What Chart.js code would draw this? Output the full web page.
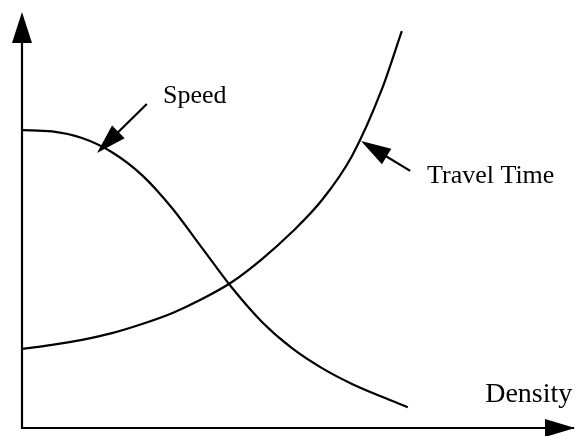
<!DOCTYPE html>
<html>
<head>
<meta charset="utf-8">
<script src="https://cdn.jsdelivr.net/npm/chart.js@4/dist/chart.umd.min.js"></script>
<style>
  html, body { margin: 0; padding: 0; background: #fff; }
  canvas { display: block; }
</style>
</head>
<body>
<canvas id="densityChart" width="575" height="436"></canvas>
<script>
// Curvas esquemáticas (unidades arbitrarias)
const densityValues = [0, 5, 10, 15, 20, 25, 30, 35, 40, 45, 50, 55, 60, 64.3];
const speedValues   = [71.6, 71.3, 69.7, 66.3, 60.8, 52.9, 43.3, 33.7, 25.5, 19.2, 14.4, 10.6, 7.5, 5.0];

const travelDensity = [0, 5, 10, 15, 20, 25, 30, 35, 40, 45, 50, 55, 60, 63.3];
const travelValues  = [19.0, 20.0, 21.2, 22.8, 25.0, 27.6, 31.0, 35.1, 40.6, 47.1, 54.8, 65.4, 81.5, 95.4];

const seriesLabels = ['Speed', 'Travel Time'];
const axisLabel = 'Density';

// Anotaciones: etiqueta + flecha apuntando a la curva (en unidades de datos)
const annotations = [
    { text: 'Speed',       textAt: [23.5, 78.1], tail: [20.8, 77.9], tip: [12.5, 66.1] },
    { text: 'Travel Time', textAt: [67.5, 58.9], tail: [64.7, 61.8], tip: [56.5, 69.0] }
];
const axisLabelAt = [77.2, 6.25];

const FONT = '"Liberation Serif", "Times New Roman", serif';

function arrowHead(ctx, fromX, fromY, tipX, tipY, len, half) {
    const a = Math.atan2(tipY - fromY, tipX - fromX);
    const bx = tipX - len * Math.cos(a), by = tipY - len * Math.sin(a);
    ctx.beginPath();
    ctx.moveTo(tipX, tipY);
    ctx.lineTo(bx + half * Math.sin(a), by - half * Math.cos(a));
    ctx.lineTo(bx - half * Math.sin(a), by + half * Math.cos(a));
    ctx.closePath();
    ctx.fill();
}

const sketchPlugin = {
    id: 'sketch',
    afterDatasetsDraw(chart) {
        const { ctx, chartArea: ca, scales: { x, y } } = chart;
        ctx.save();
        ctx.strokeStyle = '#000';
        ctx.fillStyle = '#000';
        ctx.lineWidth = 2.2;

        // Ejes con flechas
        ctx.beginPath();
        ctx.moveTo(ca.left, 40);
        ctx.lineTo(ca.left, ca.bottom);
        ctx.lineTo(ca.right, ca.bottom);
        ctx.stroke();
        arrowHead(ctx, ca.left, ca.bottom, ca.left, ca.top, 31, 10);
        arrowHead(ctx, ca.left, ca.bottom, ca.right + 1, ca.bottom, 30, 9);

        // Flechas de las anotaciones
        annotations.forEach(an => {
            const tx = x.getPixelForValue(an.tail[0]), ty = y.getPixelForValue(an.tail[1]);
            const px = x.getPixelForValue(an.tip[0]), py = y.getPixelForValue(an.tip[1]);
            ctx.beginPath();
            ctx.moveTo(tx, ty);
            ctx.lineTo(px + (tx - px) * 0.3, py + (ty - py) * 0.3);
            ctx.stroke();
            arrowHead(ctx, tx, ty, px, py, 30, 9);
        });

        // Textos
        ctx.textBaseline = 'alphabetic';
        ctx.textAlign = 'left';
        ctx.font = '26px ' + FONT;
        annotations.forEach(an => {
            ctx.fillText(an.text, x.getPixelForValue(an.textAt[0]), y.getPixelForValue(an.textAt[1]));
        });
        ctx.font = '28px ' + FONT;
        ctx.fillText(axisLabel, x.getPixelForValue(axisLabelAt[0]), y.getPixelForValue(axisLabelAt[1]));
        ctx.restore();
    }
};

document.addEventListener('DOMContentLoaded', function () {
    const ctx = document.getElementById('densityChart').getContext('2d');
    const lineStyle = {
        borderColor: '#000',
        borderWidth: 2.2,
        pointRadius: 0,
        cubicInterpolationMode: 'monotone',
        fill: false
    };
    new Chart(ctx, {
        type: 'line',
        data: {
            datasets: [{
                label: seriesLabels[0],
                data: densityValues.map((d, i) => ({ x: d, y: speedValues[i] })),
                ...lineStyle
            }, {
                label: seriesLabels[1],
                data: travelDensity.map((d, i) => ({ x: d, y: travelValues[i] })),
                ...lineStyle
            }]
        },
        options: {
            responsive: false,
            animation: false,
            layout: { padding: { left: 22, right: 1, top: 12, bottom: 8 } },
            scales: {
                x: { type: 'linear', min: 0, max: 92, display: false },
                y: { type: 'linear', min: 0, max: 100, display: false }
            },
            plugins: { legend: { display: false }, tooltip: { enabled: false } }
        },
        plugins: [sketchPlugin]
    });
});
</script>
</body>
</html>
